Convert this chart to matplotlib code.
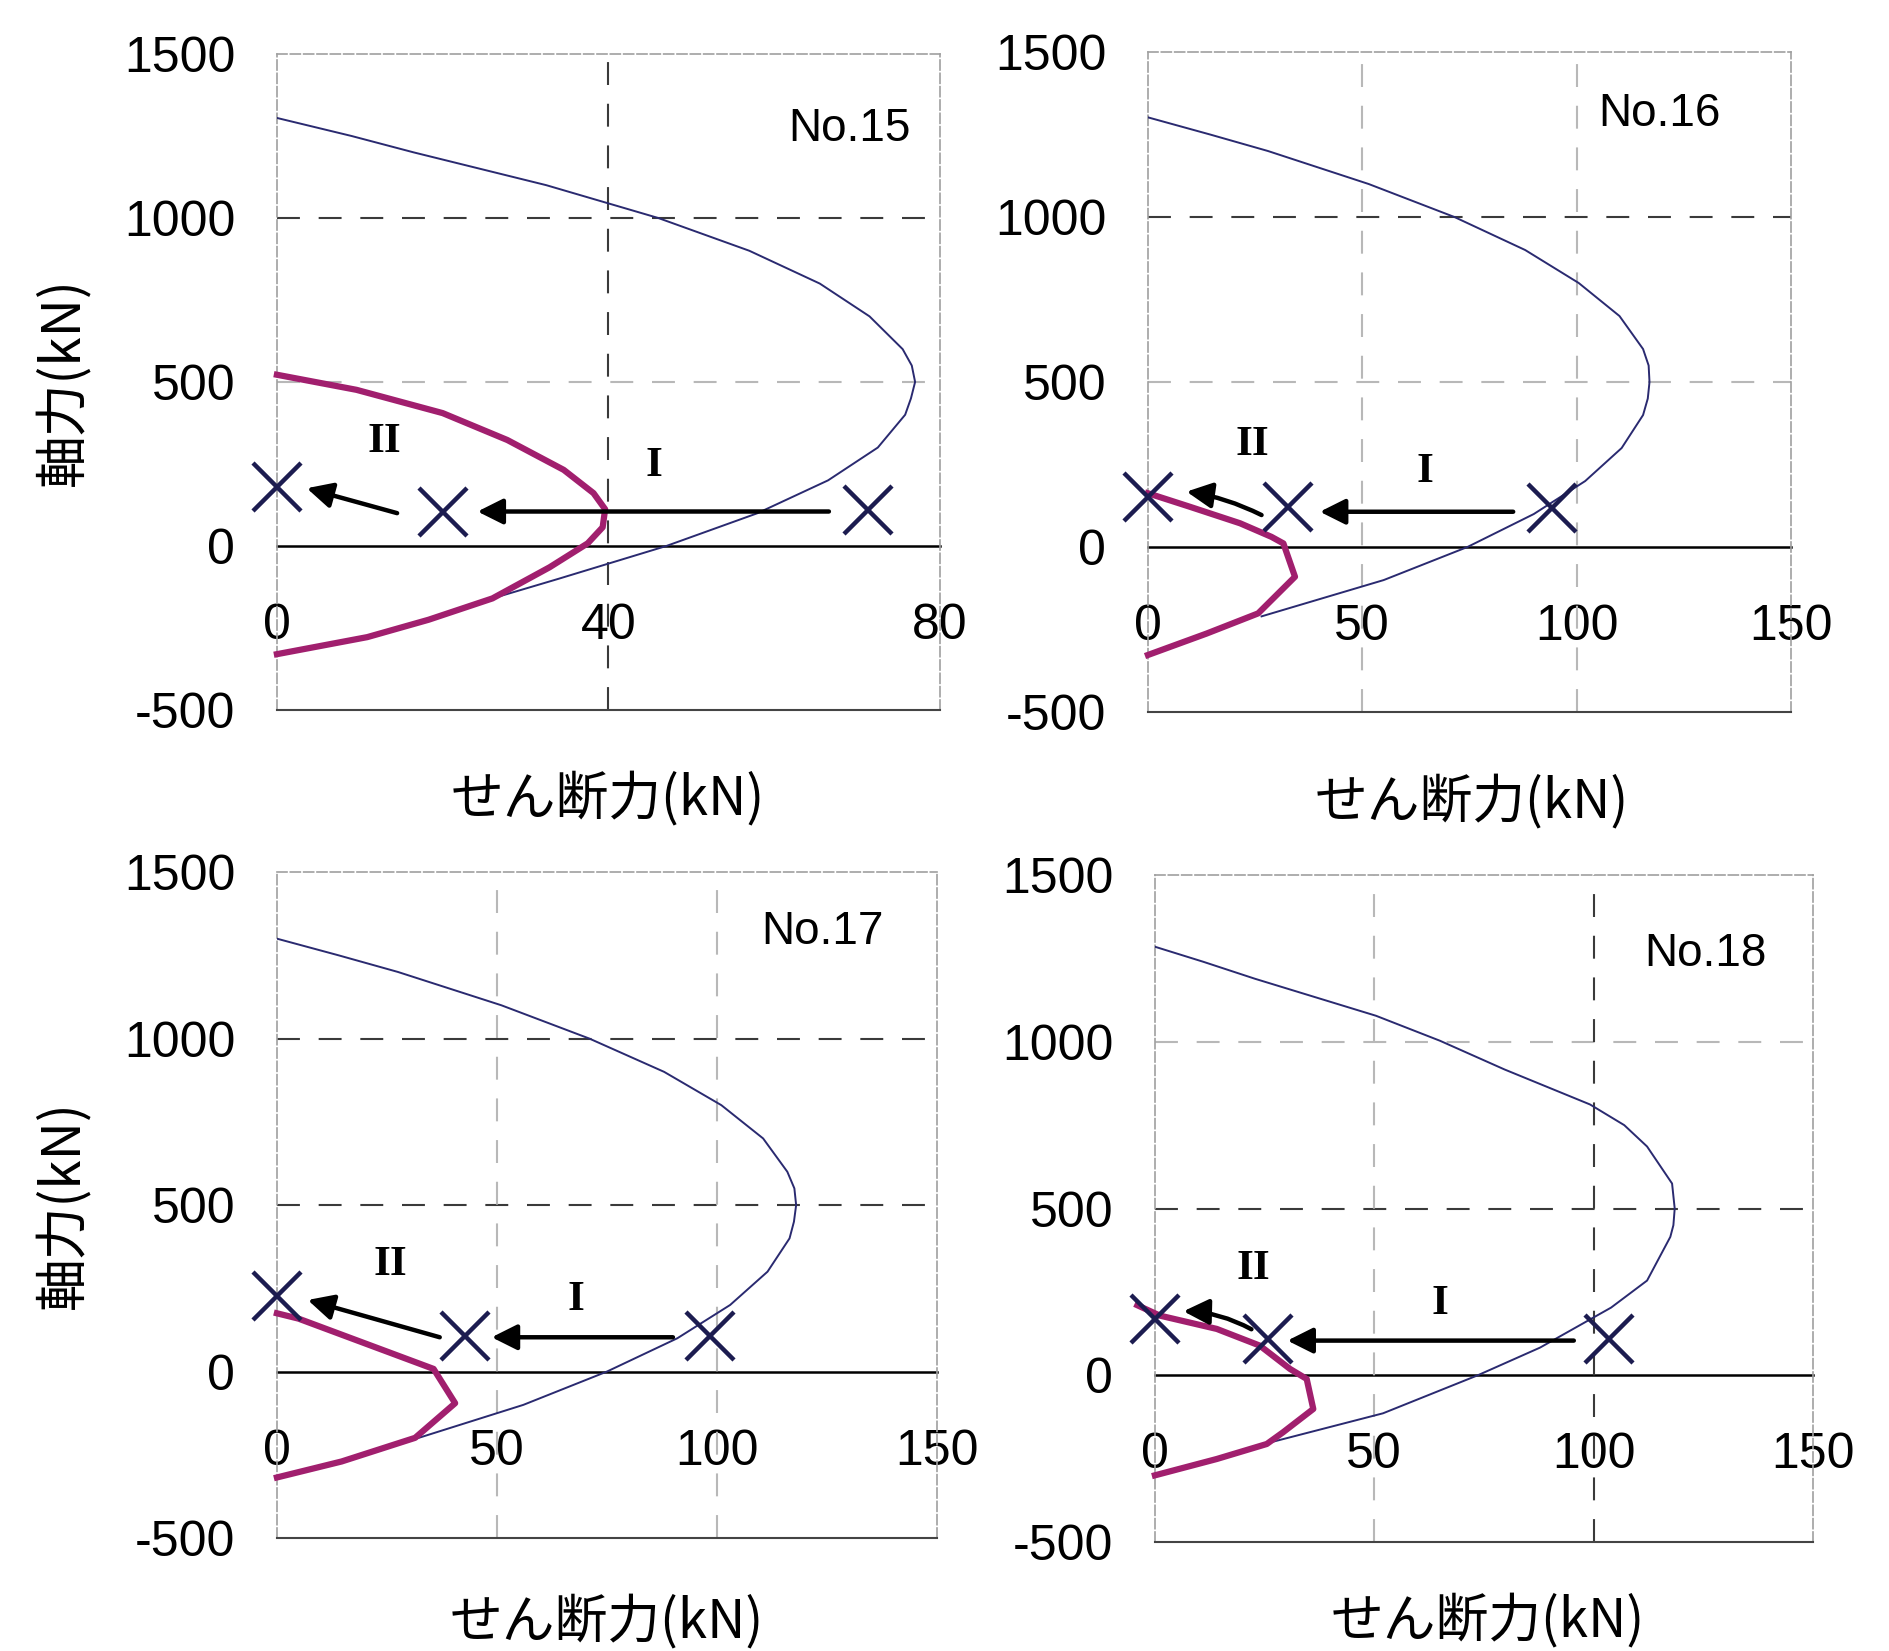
import matplotlib
matplotlib.use("Agg")
import matplotlib.pyplot as plt

plt.rcParams['font.family'] = ['Noto Sans CJK JP', 'DejaVu Sans']

names = ["No.15", "No.16", "No.17", "No.18"]
x_max = [80, 150, 150, 150]
x_ticks = [[0, 40, 80], [0, 50, 100, 150], [0, 50, 100, 150], [0, 50, 100, 150]]
y_ticks = [-500, 0, 500, 1000, 1500]

# blue curves (shear capacity vs axial force)
cap_x15 = [0, 9, 16.5, 32.5, 46, 57, 65.5, 71.5, 75.5, 76.6, 77, 76.5, 75.8, 72.5, 66.5, 58, 47, 34, 26]
cap_y15 = [1305, 1250, 1200, 1100, 1000, 900, 800, 700, 600, 550, 500, 450, 400, 300, 200, 100, 0, -100, -160]
cap_x16 = [0, 14.5, 28, 51.5, 71.5, 88, 100.5, 110, 115.5, 116.8, 117, 116.6, 115.5, 110.5, 102, 90, 74.5, 55, 26.5]
cap_y16 = [1302, 1250, 1200, 1100, 1000, 900, 800, 700, 600, 550, 500, 450, 400, 300, 200, 100, 0, -100, -210]
cap_x17 = [0, 14, 27.5, 51, 71, 88, 101, 110.5, 116, 117.6, 118, 117.5, 116.5, 111.5, 103, 91, 75, 56, 32]
cap_y17 = [1300, 1250, 1200, 1100, 1000, 900, 800, 700, 600, 550, 500, 450, 400, 300, 200, 100, 0, -100, -200]
cap_x18 = [0, 11, 22.8, 50.4, 65, 79.7, 99.2, 107, 112.2, 117.9, 118.5, 118.2, 117.5, 112.2, 104, 95.9, 87.8, 73.6, 52, 25.5]
cap_y18 = [1285, 1240, 1189, 1078, 1003, 917, 812, 750, 686, 575, 500, 450, 415, 284, 203, 143, 83, 0, -114, -204]

# magenta curves (reduced capacity)
red_x15 = [0, 9.6, 20, 27.8, 34.6, 38.2, 39.6, 39.3, 37.5, 32.9, 26, 18.3, 10.9, 0]
red_y15 = [522, 476, 405, 323, 232, 161, 112, 57, 8, -65, -160, -225, -278, -330]
red_x16 = [0, 9.8, 21.5, 28.8, 31.6, 34.3, 25.7, 13.7, 0]
red_y16 = [163, 122, 72, 31, 11, -90, -201, -262, -327]
red_x17 = [0, 4.9, 35.6, 40.5, 31.4, 14.7, 0]
red_y17 = [175, 159, 8, -95, -199, -270, -318]
red_x18 = [-4, 1.1, 14.1, 23.9, 30.8, 34.6, 36.1, 29.2, 25.5, 14.1, 0]
red_y18 = [210, 179, 139, 89, 19, -11, -101, -171, -206, -251, -300]

# load points (x marks)
pt_x15 = [71.3, 20, 0]
pt_y15 = [110, 105, 181]
pt_x16 = [94.2, 32.7, 0]
pt_y16 = [117, 120, 152]
pt_x17 = [98.4, 42.8, 0]
pt_y17 = [108, 108, 227]
pt_x18 = [103.5, 25.8, 0]
pt_y18 = [110, 109, 170]

# arrows: (x_from, y_from, x_to, y_to)
arr15 = [(66.6, 105, 24.2, 105), (14.5, 100, 3.6, 176)]
arr16 = [(85.2, 107, 40.1, 107), (26.5, 97, 9, 168)]
arr17 = [(90, 103, 48.8, 103), (37, 103, 7, 215)]
arr18 = [(95.5, 104, 30.2, 104), (22, 138, 6.5, 192)]

caps = [(cap_x15, cap_y15), (cap_x16, cap_y16), (cap_x17, cap_y17), (cap_x18, cap_y18)]
reds = [(red_x15, red_y15), (red_x16, red_y16), (red_x17, red_y17), (red_x18, red_y18)]
pts = [(pt_x15, pt_y15), (pt_x16, pt_y16), (pt_x17, pt_y17), (pt_x18, pt_y18)]
arrows = [arr15, arr16, arr17, arr18]

boxes = [[0.1466, 0.570, 0.351, 0.3973],
         [0.6077, 0.5687, 0.3404, 0.3998],
         [0.1466, 0.0684, 0.3494, 0.4034],
         [0.6114, 0.066, 0.3483, 0.404]]
dark = '#3a3a3a'
light = '#b8b8b8'
hgrid = [{1000: dark, 500: light}, {1000: dark, 500: light},
         {1000: dark, 500: dark}, {1000: light, 500: dark}]
vgrid = [{40: dark}, {50: light, 100: light},
         {50: light, 100: light}, {50: light, 100: dark}]
name_pos = [(0.863, 0.886), (0.795, 0.906), (0.827, 0.91), (0.836, 0.882)]
xlab_pos = [(0.499, -0.094), (0.504, -0.095), (0.499, -0.084), (0.506, -0.077)]
roman_pos = [((13, 318), (45.5, 245)), ((24.3, 309), (64.6, 227)),
             ((25.8, 321), (68, 215)), ((22.4, 320), (65, 213))]
arc2 = [0.0, 0.08, 0.0, 0.12]

fig = plt.figure(figsize=(18.89, 16.51), dpi=100)

for i in range(4):
    ax = fig.add_axes(boxes[i])
    ax.set_xlim(0, x_max[i])
    ax.set_ylim(-500, 1500)

    for v, c in hgrid[i].items():
        ax.axhline(v, color=c, lw=1.5, dashes=(11, 9), zorder=1)
    for v, c in vgrid[i].items():
        ax.axvline(v, color=c, lw=1.5, dashes=(11, 9), zorder=1)

    for s in ['left', 'top', 'right']:
        ax.spines[s].set_color('#a0a0a0')
        ax.spines[s].set_linewidth(1.2)
        ax.spines[s].set_linestyle((0, (6, 2)))
    ax.spines['bottom'].set_color('#444444')
    ax.spines['bottom'].set_linewidth(1.5)

    ax.set_yticks(y_ticks, labels=[str(t) for t in y_ticks],
                  fontfamily='Liberation Sans', fontsize=36)
    ax.tick_params(axis='y', length=0, pad=30)
    ax.set_xticks([])

    sec = ax.secondary_xaxis(0.25)
    sec.set_xticks(x_ticks[i], labels=[str(t) for t in x_ticks[i]],
                   fontfamily='Liberation Sans', fontsize=36)
    sec.tick_params(length=0, pad=41)
    sec.spines['bottom'].set_color('black')
    sec.spines['bottom'].set_linewidth(1.8)

    cx, cy = caps[i]
    ax.plot(cx, cy, color='#2a2a70', lw=1.4, zorder=3)
    rx, ry = reds[i]
    ax.plot(rx, ry, color='#a11f6e', lw=4.5, zorder=4, clip_on=False)
    px, py = pts[i]
    ax.plot(px, py, ls='none', marker='x', ms=34, mew=3.2, color='#1c1c50',
            zorder=6, clip_on=False)

    for k, (x0, y0, x1, y1) in enumerate(arrows[i]):
        rad = 0.0 if k == 0 else arc2[i]
        ax.annotate('', xy=(x1, y1), xytext=(x0, y0),
                    arrowprops=dict(arrowstyle='-|>,head_length=0.7,head_width=0.35',
                                    mutation_scale=22, lw=3.2, color='black',
                                    shrinkA=0, shrinkB=0,
                                    connectionstyle='arc3,rad=%s' % rad),
                    zorder=5)

    (r2x, r2y), (r1x, r1y) = roman_pos[i]
    ax.text(r2x, r2y, 'II', family='Liberation Serif', fontweight='bold',
            fontsize=31, ha='center', va='center')
    ax.text(r1x, r1y, 'I', family='Liberation Serif', fontweight='bold',
            fontsize=31, ha='center', va='center')

    ax.text(name_pos[i][0], name_pos[i][1], names[i], transform=ax.transAxes,
            ha='center', va='center', fontsize=33, family='Liberation Sans')

    ax.set_xlabel('せん断力(kN)', fontsize=38)
    ax.xaxis.set_label_coords(*xlab_pos[i])
    if i % 2 == 0:
        ax.set_ylabel('軸力(kN)', fontsize=38)
        ax.yaxis.set_label_coords(-0.282, 0.5)

fig.savefig('out.png', dpi=100)
